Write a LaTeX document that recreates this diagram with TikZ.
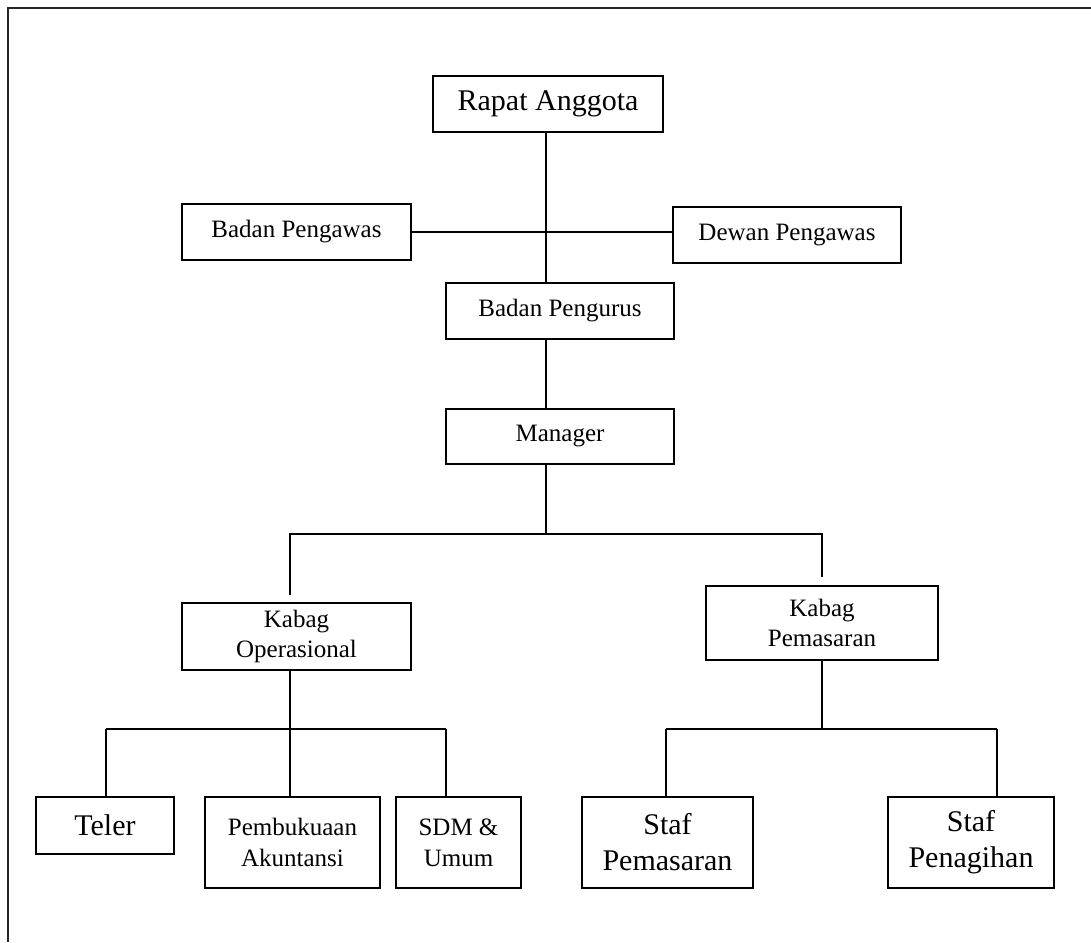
\documentclass[tikz,border=0pt]{standalone}
\usepackage{fontspec}
\setmainfont{Liberation Serif}
\usepackage{tikz}
\usetikzlibrary{positioning,calc}

\begin{document}
\begin{tikzpicture}[x=1pt, y=-1pt, line cap=butt, line join=miter,
                    every node/.style={outer sep=0pt}]

  \tikzset{
    unit/.style={draw=black, line width=1.1pt, inner sep=0pt, align=center, fill=white},
    link/.style={line width=1.1pt, draw=black},
    frame/.style={line width=2pt, draw=black!85},
    txtbig/.style={font=\fontsize{30}{36}\selectfont},
    txtlarge/.style={font=\fontsize{30}{36}\selectfont},
    txtmid/.style={font=\fontsize{25}{30}\selectfont},
    txtsmall/.style={font=\fontsize{25}{31}\selectfont}
  }

  \path[use as bounding box] (0,0) rectangle (1091,942);

  % page frame (top and left edge only)
  \draw[frame] (8,942) -- (8,8) -- (1091,8);

  % top levels
  \node[unit, txtbig, minimum width=230, minimum height=56] (rapat) at (548,104) {Rapat Anggota};
  \node[unit, txtmid, minimum width=229, minimum height=56] (bpengawas) at (296.5,232) {Badan Pengawas};
  \node[unit, txtmid, minimum width=228, minimum height=56] (dpengawas) at (787,235) {Dewan Pengawas};
  \node[unit, txtmid, minimum width=228, minimum height=56] (pengurus) at (560,311) {Badan Pengurus};
  \node[unit, txtmid, minimum width=228, minimum height=55] (manager) at (560,436.5) {Manager};

  % kabag level
  \node[unit, txtmid, minimum width=229, minimum height=67] (kabops) at (296.5,636.5) {Kabag\\Operasional};
  \node[unit, txtmid, minimum width=232, minimum height=74] (kabpms) at (822,623) {Kabag\\Pemasaran};

  % staff level
  \node[unit, txtlarge, minimum width=138, minimum height=57] (teler) at (105,825.5) {Teler};
  \node[unit, txtsmall, minimum width=175, minimum height=91] (buku) at (292.5,842.5) {Pembukuaan\\Akuntansi};
  \node[unit, txtsmall, minimum width=125, minimum height=91] (sdm) at (458.5,842.5) {SDM \&\\Umum};
  \node[unit, txtlarge, minimum width=171, minimum height=91] (stafpms) at (667.5,842.5) {Staf\\Pemasaran};
  \node[unit, txtlarge, minimum width=166, minimum height=91] (stafpng) at (971,842.5) {Staf\\Penagihan};

  % branch points
  \coordinate (spine) at (546,0);
  \coordinate (mgrbar) at (546,534);
  \coordinate (opsbar) at (290,729);
  \coordinate (pmsbar) at (822,729);

  % main spine
  \draw[link] (rapat.south -| spine) -- (pengurus.north -| spine);
  \draw[link] (bpengawas.east) -- (bpengawas.east -| dpengawas.west);
  \draw[link] (pengurus.south -| spine) -- (manager.north -| spine);
  \draw[link] (manager.south -| spine) -- (mgrbar);

  % manager to kabag
  \draw[link] ([yshift=8pt]kabops.north -| opsbar) -- (mgrbar -| opsbar) -- (mgrbar -| pmsbar)
              -- ([yshift=9pt]kabpms.north -| pmsbar);

  % kabag operasional to staff
  \draw[link] (kabops.south -| opsbar) -- (opsbar);
  \draw[link] (106,729) -- (446,729);
  \foreach \p/\x in {teler/106, buku/290, sdm/446}
    \draw[link] (\x,729) -- (\p.north -| {\x,0});

  % kabag pemasaran to staff
  \draw[link] (kabpms.south) -- (pmsbar);
  \draw[link] (666,729) -- (997,729);
  \foreach \p/\x in {stafpms/666, stafpng/997}
    \draw[link] (\x,729) -- (\p.north -| {\x,0});
\end{tikzpicture}
\end{document}
